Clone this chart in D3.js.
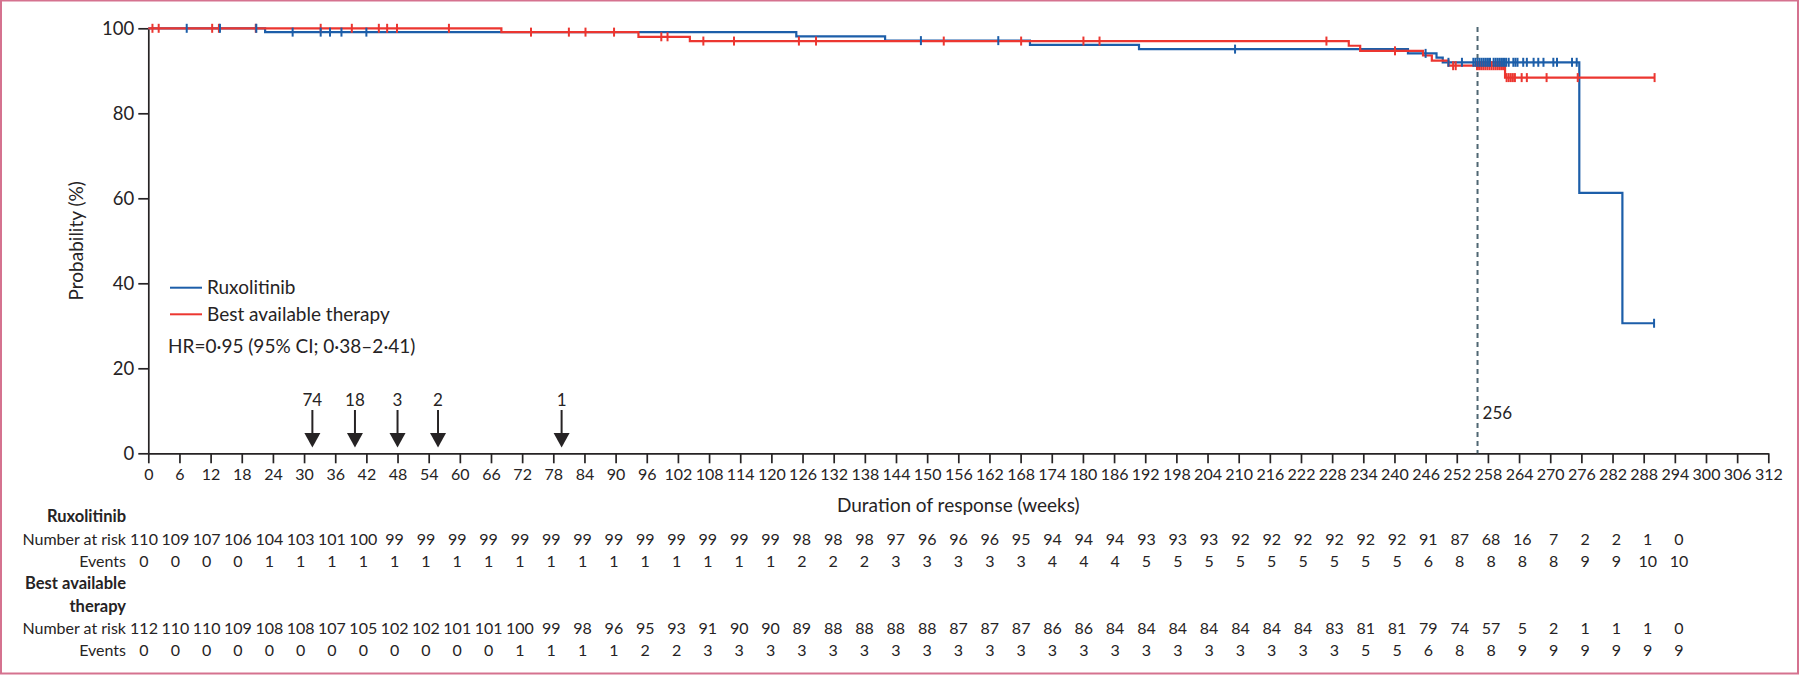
<!DOCTYPE html>
<html><head><meta charset="utf-8">
<script src="https://cdn.jsdelivr.net/npm/d3@7"></script>
<style>
body{margin:0;background:#fff}
svg{display:block}
text{font-family:Lato,'Open Sans',sans-serif;fill:#262324}
</style>
</head><body>
<svg id="chart" width="1800" height="676"></svg>
<script>
// ---------- data ----------
const weekTicks = d3.range(0, 313, 6);
const probTicks = [0, 20, 40, 60, 80, 100];

const ruxStepTimes = [0, 22.5, 124.8, 141.9, 169.8, 190.8, 242.6, 248.1, 249.3, 275.6, 283.9];
const ruxStepSurv  = [100, 99.1, 98.1, 97.1, 96.1, 95.1, 94.1, 93.1, 92.0, 61.3, 30.6];
const ruxEnd = 290.0;
const ruxCensor = [7.4, 13.8, 20.8, 27.8, 33.2, 35.0, 37.2, 42.0, 148.8, 163.7, 209.3, 246.0,
  250.4, 253.0, 255.2, 255.6, 256.0, 256.4, 256.8, 257.2, 257.6, 258.0, 258.4, 259.1, 259.5,
  259.9, 260.3, 260.7, 261.1, 261.5, 262.0, 262.9, 263.3, 263.7, 264.8, 265.5, 266.8, 267.7,
  268.7, 270.6, 271.3, 274.2, 275.1, 290.0];

const batStepTimes = [0, 68.0, 94.4, 104.3, 231.2, 233.4, 245.5, 247.2, 250.4, 261.3];
const batStepSurv  = [100, 99.1, 98.0, 97.0, 95.9, 94.7, 93.6, 92.4, 91.2, 88.4];
const batEnd = 290.1;
const batCensor = [0.8, 2.0, 12.3, 13.6, 20.7, 33.2, 39.2, 44.4, 46.0, 47.9, 57.9, 73.7, 81.0,
  84.2, 89.7, 98.8, 100.0, 106.9, 112.8, 125.3, 128.6, 153.2, 168.1, 180.1, 183.2, 226.9, 240.1,
  251.3, 251.8, 255.9, 256.3, 256.7, 257.1, 257.5, 257.9, 258.3, 258.7, 259.1, 259.5, 259.9,
  260.3, 260.7, 261.1, 261.6, 262.0, 262.4, 262.8, 263.2, 264.5, 265.5, 269.3, 275.3, 290.1];

const riskWeeks = d3.range(0, 295, 6);
const ruxAtRisk = [110,109,107,106,104,103,101,100,99,99,99,99,99,99,99,99,99,99,99,99,99,98,98,98,97,96,96,96,95,94,94,94,93,93,93,92,92,92,92,92,92,91,87,68,16,7,2,2,1,0];
const ruxEvents = [0,0,0,0,1,1,1,1,1,1,1,1,1,1,1,1,1,1,1,1,1,2,2,2,3,3,3,3,3,4,4,4,5,5,5,5,5,5,5,5,5,6,8,8,8,8,9,9,10,10];
const batAtRisk = [112,110,110,109,108,108,107,105,102,102,101,101,100,99,98,96,95,93,91,90,90,89,88,88,88,88,87,87,87,86,86,84,84,84,84,84,84,84,83,81,81,79,74,57,5,2,1,1,1,0];
const batEvents = [0,0,0,0,0,0,0,0,0,0,0,0,1,1,1,1,2,2,3,3,3,3,3,3,3,3,3,3,3,3,3,3,3,3,3,3,3,3,3,5,5,6,8,8,9,9,9,9,9,9];

const arrowWeeks = [31.6, 39.8, 48.0, 55.8, 79.6];
const arrowLabels = ["74", "18", "3", "2", "1"];
const refWeek = 256;

const seriesNames = ["Ruxolitinib", "Best available therapy"];
const hrText = "HR=0\u00b795 (95% CI; 0\u00b738\u20132\u00b741)";

// ---------- styling ----------
const BLUE = "#1c5ea9", RED = "#ec3630", INK = "#262324";

const svg = d3.select("#chart");
svg.append("rect").attr("x", 1).attr("y", 0.5).attr("width", 1797).attr("height", 673)
  .attr("fill", "#fff").attr("stroke", "#d5728f").attr("stroke-width", 2);

const x = d3.scaleLinear().domain([0, 312]).range([148.3, 1768.3]);
const y = d3.scaleLinear().domain([0, 100]).range([453.3, 28.3]);
const xt = d3.scaleLinear().domain([0, 294]).range([144, 1679]);

// axes
const gx = svg.append("g").attr("transform", `translate(0,${y(0)})`)
  .call(d3.axisBottom(x).tickValues(weekTicks).tickSize(10).tickSizeOuter(0).tickPadding(5));
gx.selectAll("text").style("font-size", "16px").attr("fill", INK);
const gy = svg.append("g").attr("transform", `translate(${x(0)},0)`)
  .call(d3.axisLeft(y).tickValues(probTicks).tickSize(10).tickSizeOuter(0).tickPadding(4));
gy.selectAll("text").style("font-size", "18.5px").attr("fill", INK);
[gx, gy].forEach(g => {
  g.selectAll("path,line").attr("stroke", INK).attr("stroke-width", 1.7);
});

svg.append("text").attr("transform", `translate(76,${(y(0) + y(100)) / 2}) rotate(-90)`)
  .attr("text-anchor", "middle").attr("dy", "0.35em").style("font-size", "19px").text("Probability (%)");
svg.append("text").attr("x", (x(0) + x(312)) / 2).attr("y", 505).attr("dy", "0.35em")
  .attr("text-anchor", "middle").style("font-size", "19px").text("Duration of response (weeks)");

// reference line
svg.append("line").attr("x1", x(refWeek)).attr("x2", x(refWeek)).attr("y1", 27).attr("y2", y(0))
  .attr("stroke", "#4f6672").attr("stroke-width", 2).attr("stroke-dasharray", "5,4");
svg.append("text").attr("x", x(refWeek) + 5).attr("y", 413).attr("dy", "0.35em")
  .style("font-size", "17px").text(String(refWeek));

// KM curves
function stepPoints(times, surv, end) {
  const pts = times.map((t, i) => [t, surv[i]]);
  pts.push([end, surv[surv.length - 1]]);
  return pts;
}
function survAt(times, surv, t) {
  const i = d3.bisectRight(times, t) - 1;
  return surv[Math.max(0, i)];
}
const line = d3.line().x(d => x(d[0])).y(d => y(d[1])).curve(d3.curveStepAfter);

svg.append("path").datum(stepPoints(ruxStepTimes, ruxStepSurv, ruxEnd))
  .attr("d", line).attr("fill", "none").attr("stroke", BLUE).attr("stroke-width", 2.2);
svg.append("path").datum(stepPoints(batStepTimes, batStepSurv, batEnd))
  .attr("d", line).attr("fill", "none").attr("stroke", RED).attr("stroke-width", 2.2);

svg.append("g").selectAll("line").data(batCensor).join("line")
  .attr("x1", d => x(d)).attr("x2", d => x(d))
  .attr("y1", d => y(survAt(batStepTimes, batStepSurv, d)) - 4.5)
  .attr("y2", d => y(survAt(batStepTimes, batStepSurv, d)) + 4.5)
  .attr("stroke", RED).attr("stroke-width", 2);
svg.append("g").selectAll("line").data(ruxCensor).join("line")
  .attr("x1", d => x(d)).attr("x2", d => x(d))
  .attr("y1", d => y(survAt(ruxStepTimes, ruxStepSurv, d)) - 4.5)
  .attr("y2", d => y(survAt(ruxStepTimes, ruxStepSurv, d)) + 4.5)
  .attr("stroke", BLUE).attr("stroke-width", 2);

// legend
const legend = svg.append("g");
[BLUE, RED].forEach((c, i) => {
  const ly = 287.7 + i * 26.6;
  legend.append("line").attr("x1", 170).attr("x2", 202).attr("y1", ly).attr("y2", ly)
    .attr("stroke", c).attr("stroke-width", 2);
  legend.append("text").attr("x", 207).attr("y", ly).attr("dy", "0.35em")
    .style("font-size", "19px").text(seriesNames[i]);
});
legend.append("text").attr("x", 168).attr("y", 346.7).attr("dy", "0.35em")
  .style("font-size", "19px").text(hrText);

// arrows
const arrows = svg.append("g");
arrowWeeks.forEach((w, i) => {
  const ax = x(w);
  arrows.append("text").attr("x", ax).attr("y", 400).attr("dy", "0.35em")
    .attr("text-anchor", "middle").style("font-size", "17px").text(arrowLabels[i]);
  arrows.append("line").attr("x1", ax).attr("x2", ax).attr("y1", 410).attr("y2", 436)
    .attr("stroke", INK).attr("stroke-width", 2);
  arrows.append("path").attr("d", `M${ax - 8},433 L${ax + 8},433 L${ax},447.5 Z`).attr("fill", INK);
});

// risk table
const table = svg.append("g");
const labelX = 126;
function rowLabel(txt, cy, bold) {
  table.append("text").attr("x", labelX).attr("y", cy).attr("dy", "0.35em")
    .attr("text-anchor", "end").style("font-size", bold ? "16.5px" : "16px")
    .style("font-weight", bold ? "700" : "400").text(txt);
}
function rowValues(vals, cy) {
  table.append("g").selectAll("text").data(vals).join("text")
    .attr("x", (d, i) => xt(riskWeeks[i])).attr("y", cy).attr("dy", "0.35em")
    .attr("text-anchor", "middle").style("font-size", "16px").text(d => d);
}
rowLabel("Ruxolitinib", 516.7, true);
rowLabel("Number at risk", 539.3, false); rowValues(ruxAtRisk, 539.3);
rowLabel("Events", 561.7, false); rowValues(ruxEvents, 561.7);
rowLabel("Best available", 583.3, true);
rowLabel("therapy", 606, true);
rowLabel("Number at risk", 628.3, false); rowValues(batAtRisk, 628.3);
rowLabel("Events", 650.7, false); rowValues(batEvents, 650.7);
</script>
</body></html>
